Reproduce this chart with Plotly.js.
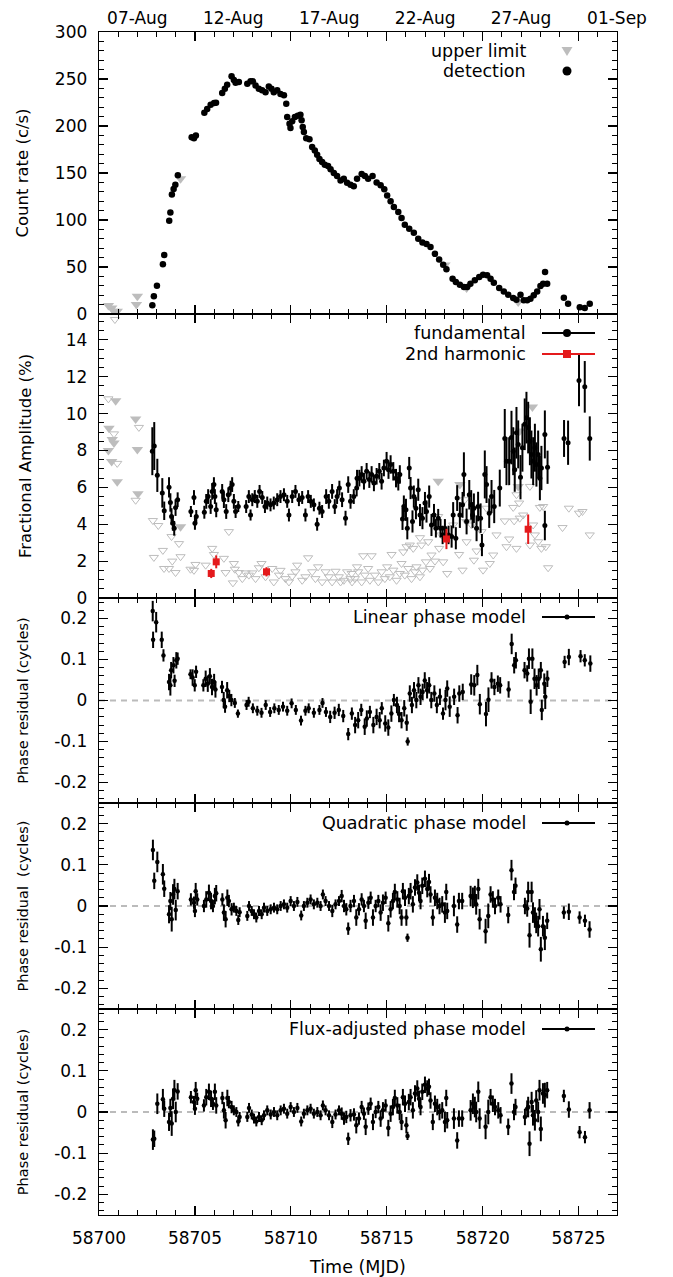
<!DOCTYPE html>
<html>
<head>
<meta charset="utf-8">
<script src="https://cdn.plot.ly/plotly-3.0.1.min.js"></script>
<style>html,body{margin:0;padding:0;background:#fff}#chart{width:673px;height:1277px}</style>
</head>
<body>
<div id="chart"></div>
<script>
// ---------- Panel 1: count rate ----------
const cntUpperT = [58700.49,58700.66,58700.78,58700.95,58701.95,58702.00,58704.25,58718.03,58719.16,58721.85];
const cntUpperV = [9,6.5,3,3,10,19,144,52,27.7,12.8];
const cntDetT = [58702.78,58702.86,58703.02,58703.33,58703.40,58703.66,58703.72,58703.80,58703.89,58703.98,58704.11,
58704.83,58704.95,58705.05,58705.49,58705.64,58705.82,58706.00,58706.10,58706.42,58706.56,58706.68,58706.91,58707.03,
58707.12,58707.29,58707.73,58707.90,58708.02,58708.16,58708.33,58708.50,58708.68,58708.85,58708.99,58709.11,58709.29,
58709.46,58709.64,58709.76,58709.81,58709.93,58709.98,58710.07,58710.21,58710.36,58710.50,58710.56,58710.62,58710.68,
58710.80,58710.97,58711.11,58711.25,58711.37,58711.49,58711.63,58711.77,58711.94,58712.07,58712.24,58712.41,58712.59,
58712.76,58712.93,58713.11,58713.28,58713.45,58713.69,58713.86,58714.03,58714.26,58714.47,58714.68,58714.87,58715.02,
58715.20,58715.37,58715.60,58715.77,58715.94,58716.17,58716.41,58716.64,58716.86,58717.07,58717.28,58717.51,58717.73,
58717.94,58718.11,58718.43,58718.60,58718.81,58719.02,58719.19,58719.36,58719.59,58719.82,58720.02,58720.23,58720.41,
58720.58,58720.86,58721.10,58721.33,58721.59,58721.76,58721.97,58722.14,58722.32,58722.49,58722.66,58722.84,58723.01,
58723.15,58723.25,58723.36,58724.23,58724.45,58725.06,58725.32,58725.58];
const cntDetV = [9.2,18.8,30,52.8,62.8,99.3,108,127,133,137.6,147.5,
188,187,190,214,218,222.7,224.5,224.8,235,239.7,244,252.8,249,
246,246.8,245,247.5,247.5,243,239.7,238,236,242,239.7,236,238,
234,232.6,223.7,209.6,202.5,198,205,209.6,211,212,206,199,193.6,
187,186,177.6,174,169.5,165,161.7,158.9,157.4,154,150,146.8,142,
144,139.7,137.6,136,144,149,146.8,144,146.8,140,136.9,132.6,126,
120,113.8,108.5,102,95,90.8,86.5,80,76,74.5,71.3,64,58,
52.5,47.5,37.6,34,31.2,28.7,28.7,32.3,35.8,39.4,41.8,41.1,37.6,
33.3,27.7,24,20.6,17,15.2,20.6,14.5,14.5,16.3,19.9,24,29.8,
32.3,44.7,32.3,17.4,11,7.1,6.4,11];

// ---------- Panel 2: fractional amplitude ----------
const fundT = [58702.78,58702.88,58703.04,58703.30,58703.40,58703.65,58703.72,58703.78,58703.85,58703.92,58703.99,58704.10,
58704.79,58704.95,58705.00,58705.07,58705.49,58705.59,58705.69,58705.82,58705.90,58705.99,58706.04,58706.11,
58706.42,58706.51,58706.63,58706.74,58706.86,58706.94,58707.03,58707.12,58707.26,58707.67,58707.81,58707.90,
58707.99,58708.12,58708.25,58708.37,58708.51,58708.65,58708.77,58708.94,58709.11,58709.29,58709.46,58709.64,
58709.81,58709.90,58710.07,58710.24,58710.42,58710.59,58710.76,58710.90,58711.04,58711.20,58711.37,58711.49,
58711.63,58711.84,58711.98,58712.15,58712.29,58712.41,58712.53,58712.67,58712.85,58712.99,58713.11,58713.28,
58713.43,58713.45,58713.57,58713.69,58713.81,58713.95,58714.09,58714.21,58714.33,58714.47,58714.61,58714.73,
58714.85,58714.99,58715.09,58715.20,58715.34,58715.48,58715.60,58715.68,58715.82,58715.89,58716.00,58716.07,
58716.17,58716.24,58716.34,58716.41,58716.52,58716.64,58716.73,58716.86,58716.99,58717.07,58717.21,58717.33,
58717.46,58717.56,58717.68,58717.80,58717.91,58718.03,58718.22,58718.38,58718.46,58718.60,58718.67,58718.81,
58718.95,58719.02,58719.16,58719.30,58719.40,58719.47,58719.54,58719.68,58719.76,58719.89,58719.96,58720.11,
58720.20,58720.34,58720.46,58720.60,58720.89,58721.15,58721.24,58721.38,58721.50,58721.59,58721.67,58721.76,
58721.85,58721.97,58722.07,58722.19,58722.28,58722.37,58722.46,58722.54,58722.63,58722.72,58722.80,58722.89,
58722.98,58723.06,58723.24,58723.24,58723.38,58724.24,58724.45,58725.02,58725.32,58725.58];
const fundV = [7.96,8.24,6.65,5.7,4.73,6.0,5.18,4.42,4.05,3.78,4.9,5.33,
4.69,5.45,4.05,4.42,4.65,5.24,5.5,4.96,5.78,6.15,5.5,4.78,
5.78,5.33,4.69,5.6,5.96,6.15,5.24,4.69,4.96,4.96,5.5,4.5,
5.33,5.5,5.24,5.78,5.45,4.96,5.15,5.05,5.15,5.33,5.5,5.6,
5.24,4.5,5.5,5.78,5.33,5.45,4.5,5.5,5.24,5.05,4.0,4.87,
4.69,5.5,5.24,5.78,4.96,5.5,5.96,5.33,4.33,6.15,5.24,5.5,
5.96,6.5,6.5,6.7,6.33,6.87,6.42,6.7,6.24,6.6,6.87,6.33,
7.05,7.42,6.96,7.24,6.87,6.5,6.33,6.7,4.29,4.96,4.78,3.78,
7.05,5.96,4.15,5.5,4.87,5.87,4.5,4.33,5.15,4.69,5.5,3.96,
4.5,3.78,4.33,3.78,3.42,3.78,3.42,3.33,4.5,3.24,5.42,4.5,
5.05,6.7,4.15,5.6,5.05,4.5,4.87,3.78,4.96,4.33,2.87,6.7,
6.15,4.6,5.5,4.96,5.96,8.65,7.42,7.42,8.7,7.96,6.96,8.96,
8.33,6.55,8.15,9.42,9.78,9.24,8.5,7.78,7.42,8.15,7.24,7.78,
6.5,7.05,8.87,3.93,7.09,8.65,8.42,11.8,11.45,8.65];
const fundE = [1.3,1.3,0.9,0.8,0.5,0.55,0.5,0.45,0.4,0.4,0.45,0.4,
0.3,0.4,0.35,0.35,0.35,0.4,0.4,0.4,0.45,0.4,0.4,0.4,
0.4,0.45,0.4,0.4,0.4,0.4,0.4,0.35,0.3,0.35,0.35,0.3,
0.35,0.35,0.35,0.35,0.35,0.35,0.35,0.35,0.35,0.35,0.35,0.35,
0.35,0.35,0.35,0.35,0.35,0.35,0.35,0.35,0.35,0.35,0.35,0.35,
0.35,0.4,0.4,0.4,0.4,0.4,0.4,0.4,0.4,0.45,0.4,0.4,
0.45,0.45,0.45,0.45,0.45,0.45,0.45,0.45,0.45,0.45,0.45,0.45,
0.45,0.5,0.5,0.5,0.5,0.5,0.5,0.5,0.6,0.6,0.6,0.6,
0.6,0.6,0.6,0.6,0.6,0.6,0.6,0.6,0.6,0.6,0.6,0.6,
0.6,0.5,0.5,0.5,0.5,0.5,0.5,0.6,0.7,0.6,0.7,0.7,
0.7,1.2,0.7,0.8,0.8,0.7,0.8,0.7,0.8,0.8,0.6,1.3,
1.0,0.8,0.9,0.9,1.0,1.6,1.3,1.3,1.45,1.3,1.2,1.4,
1.3,1.2,1.3,1.4,1.4,1.4,1.3,1.3,1.3,1.3,1.2,1.3,
1.2,1.2,1.3,0.8,0.9,1.0,1.2,1.4,1.4,1.2];
const fundUpperT = [58700.87,58700.52,58700.69,58700.78,58700.49,58700.66,58700.95,58701.91,58702.00,58702.03,58704.25,
58717.68,58718.81,58719.16,58721.85,58721.93,58722.59];
const fundUpperV = [10.7,9.2,8.6,8.4,8.0,7.4,6.3,9.7,8.05,5.65,3.87,
6.33,6.15,4.15,6.05,9.05,10.36];
const harmUpperT = [58700.83,58700.49,58700.78,58700.95,58702.08,58701.91,58702.81,58703.09,58703.78,58704.17,58702.86,
58703.33,58703.82,58704.25,58703.39,58703.65,58703.99,58704.77,58705.03,58704.95,58705.56,58705.90,58705.99,58706.51,
58706.60,58706.77,58707.03,58707.08,58706.98,58707.29,58707.47,58707.64,58707.81,58707.99,58708.16,58708.33,58708.47,
58708.68,58709.03,58709.11,58709.38,58709.46,58709.72,58709.90,58710.07,58710.24,58710.33,58710.59,58710.76,58710.90,
58711.11,58711.28,58711.42,58711.63,58711.81,58711.98,58712.15,58712.33,58712.50,58712.59,58712.76,58712.93,58713.11,
58713.19,58713.45,58713.17,58713.34,58713.51,58713.69,58713.77,58713.86,58714.03,58714.12,58714.21,58714.38,58714.56,
58714.73,58714.90,58715.02,58715.16,58715.25,58715.34,58715.51,58715.68,58715.77,58715.86,58715.94,58716.03,58716.12,
58716.20,58716.29,58716.38,58716.47,58716.55,58716.73,58716.73,58716.81,58716.86,58717.04,58717.16,58717.25,58717.33,
58717.51,58717.68,58717.73,58717.85,58717.94,58718.15,58718.46,58718.77,58718.95,58719.07,58719.16,58719.42,58719.54,
58719.68,58719.94,58720.02,58720.20,58720.37,58720.55,58720.72,58721.15,58721.24,58721.38,58721.59,58721.64,58721.76,
58721.76,58721.90,58721.93,58722.11,58722.46,58722.46,58722.63,58722.72,58722.89,58722.98,58723.06,58723.15,58723.29,
58723.41,58724.16,58724.49,58725.02,58725.20,58725.58];
const harmUpperV = [15.1,10.8,8.9,7.3,9.25,5.3,4.2,3.93,3.33,2.95,2.2,
2.58,2.0,2.24,1.6,1.6,1.38,1.56,1.82,1.5,1.78,2.69,2.36,2.15,
1.38,3.6,1.87,1.56,0.82,1.38,1.05,1.36,1.24,1.36,1.05,1.64,1.87,
1.15,1.6,0.87,1.24,1.5,1.05,0.87,1.18,1.42,1.78,0.96,1.15,2.18,
1.42,1.05,1.69,0.87,1.42,1.15,0.87,1.45,1.15,0.87,0.96,1.42,1.05,
0.87,1.69,1.33,1.05,1.42,0.87,2.29,1.24,1.6,0.96,2.29,1.24,0.87,
1.42,1.05,1.69,1.15,2.36,1.51,0.96,1.33,1.87,2.5,1.24,2.78,1.6,
2.87,1.05,2.69,1.42,1.69,3.27,1.15,2.87,1.51,1.96,3.05,1.6,2.33,
2.0,4.42,2.69,3.42,1.96,1.33,3.96,2.36,1.51,5.33,3.05,3.96,2.05,
2.55,3.6,1.51,4.87,1.87,2.33,3.42,4.18,2.78,3.2,4.91,4.18,2.69,
5.6,5.15,4.33,4.5,6.05,2.87,3.96,3.42,3.05,4.91,2.69,4.96,2.78,
1.64,3.82,4.87,4.6,4.69,3.42];
const harmT = [58705.85,58706.11,58708.73,58718.11,58722.37];
const harmV = [1.33,1.96,1.42,3.2,3.73];
const harmE = [0.25,0.35,0.25,0.55,0.8];

// ---------- Panel 3: linear phase model residuals ----------
const linT = [58702.80,58702.82,58702.98,58703.27,58703.36,58703.65,58703.72,58703.76,58703.88,58703.94,58704.03,58704.10,
58704.77,58704.88,58704.99,58705.06,58705.44,58705.56,58705.67,58705.78,58705.89,58706.00,58706.07,58706.41,58706.50,
58706.57,58706.68,58706.79,58706.90,58707.08,58707.24,58707.69,58707.80,58708.02,58708.25,58708.47,58708.69,58708.92,
58709.14,58709.37,58709.59,58709.81,58710.04,58710.26,58710.53,58710.76,58710.93,58711.20,58711.49,58711.65,58711.83,
58712.05,58712.28,58712.50,58712.73,58712.99,58713.18,58713.35,58713.51,58713.67,58713.85,58713.96,58714.12,58714.30,
58714.47,58714.63,58714.74,58714.92,58715.08,58715.24,58715.37,58715.53,58715.64,58715.77,58715.91,58716.04,58716.09,
58716.20,58716.31,58716.42,58716.54,58716.65,58716.76,58716.87,58716.98,58717.10,58717.21,58717.32,58717.48,58717.61,
58717.77,58717.93,58718.06,58718.15,58718.28,58718.51,58718.69,58718.78,58718.96,58719.40,58719.56,58719.72,58719.85,
58720.17,58720.30,58720.46,58720.61,58720.79,58720.91,58721.35,58721.51,58721.64,58721.73,58722.18,58722.32,58722.41,
58722.50,58722.59,58722.70,58722.81,58722.92,58723.03,58723.08,58723.21,58723.26,58723.37,58724.27,58724.49,58725.10,
58725.32,58725.61];
const linV = [0.218,0.148,0.191,0.148,0.110,0.045,0.037,0.074,0.086,0.048,0.098,0.102,
0.064,0.056,0.037,0.070,0.037,0.053,0.041,0.059,0.033,0.045,0.027,0.033,0.001,
-0.015,0.025,0.011,0.001,-0.006,-0.032,-0.011,-0.003,-0.019,-0.025,-0.030,-0.011,-0.028,
-0.019,-0.023,-0.015,-0.025,-0.007,-0.023,-0.049,-0.025,-0.019,-0.030,-0.023,-0.006,-0.028,
-0.040,-0.030,-0.023,-0.038,-0.082,-0.032,-0.060,-0.048,-0.023,-0.064,-0.044,-0.028,-0.060,
-0.040,-0.048,-0.019,-0.056,-0.066,-0.032,0.001,-0.011,-0.033,-0.048,-0.019,-0.054,-0.100,
0.017,-0.011,0.025,0.001,0.037,0.009,0.021,0.049,0.025,0.037,0.001,0.017,-0.011,
0.009,-0.032,0.001,0.029,-0.015,0.009,-0.036,0.017,0.021,0.039,0.037,0.062,-0.009,
-0.033,0.002,0.049,0.033,0.041,0.037,0.027,0.138,0.086,0.098,0.074,0.066,0.102,
-0.003,0.102,0.053,0.037,0.053,0.074,-0.023,0.041,0.009,0.053,0.094,0.106,0.108,
0.098,0.090];
const linE = [0.025,0.020,0.025,0.020,0.015,0.020,0.025,0.020,0.020,0.015,0.020,0.015,
0.012,0.020,0.015,0.015,0.015,0.020,0.020,0.020,0.020,0.020,0.020,0.015,0.020,
0.015,0.020,0.015,0.015,0.012,0.010,0.012,0.012,0.012,0.012,0.012,0.012,0.012,
0.012,0.012,0.012,0.012,0.012,0.012,0.012,0.012,0.012,0.012,0.012,0.012,0.012,
0.015,0.015,0.015,0.015,0.015,0.015,0.020,0.020,0.015,0.020,0.020,0.015,0.020,
0.020,0.020,0.015,0.020,0.020,0.020,0.015,0.020,0.020,0.020,0.020,0.020,0.010,
0.020,0.020,0.020,0.020,0.020,0.020,0.020,0.020,0.020,0.020,0.020,0.020,0.020,
0.020,0.015,0.025,0.020,0.025,0.020,0.020,0.020,0.020,0.025,0.025,0.025,0.025,
0.030,0.030,0.020,0.020,0.020,0.020,0.020,0.025,0.020,0.020,0.020,0.020,0.025,
0.030,0.025,0.025,0.025,0.025,0.020,0.025,0.025,0.030,0.020,0.015,0.020,0.015,
0.015,0.020];

// ---------- Panels 4 & 5: quadratic and flux-adjusted residuals ----------
const phaseT = [58702.81,58702.88,58703.04,58703.33,58703.40,58703.65,58703.72,58703.79,58703.86,58703.93,58704.00,58704.10,
58704.79,58704.95,58705.00,58705.04,58705.12,58705.47,58705.59,58705.73,58705.84,58705.94,58706.04,58706.11,
58706.43,58706.51,58706.60,58706.69,58706.77,58706.91,58707.03,58707.16,58707.26,58707.33,
58707.73,58707.82,58707.96,58708.08,58708.20,58708.34,58708.48,58708.60,58708.77,58708.95,
58709.12,58709.29,58709.47,58709.64,58709.81,58709.99,58710.16,58710.34,58710.54,58710.68,
58710.86,58711.03,58711.20,58711.38,58711.55,58711.67,58711.81,58711.99,58712.16,58712.33,
58712.51,58712.65,58712.77,58712.89,58712.99,58713.11,58713.29,58713.41,58713.55,58713.69,
58713.81,58713.90,58714.04,58714.16,58714.28,58714.42,58714.56,58714.68,58714.80,58714.94,
58715.08,58715.20,58715.32,58715.42,58715.55,58715.67,58715.77,58715.84,58715.95,58716.02,
58716.08,58716.15,58716.24,58716.36,58716.47,58716.59,58716.68,58716.76,58716.85,58716.99,
58717.11,58717.20,58717.28,58717.40,58717.51,58717.63,58717.75,58717.89,58718.03,58718.10,
58718.15,58718.50,58718.67,58718.76,58718.93,58719.37,58719.49,58719.59,58719.66,58719.77,
58719.84,58720.15,58720.29,58720.41,58720.53,58720.64,58720.81,58720.93,58721.33,58721.50,
58721.63,58721.71,58722.20,58722.32,58722.37,58722.44,58722.55,58722.62,58722.72,58722.79,
58722.89,58722.96,58723.03,58723.14,58723.24,58723.36,58724.23,58724.49,58725.05,58725.33,58725.57];
const quadV = [0.136,0.061,0.107,0.077,0.042,-0.020,0.012,-0.032,0.028,0.041,-0.010,0.036,
0.016,0.008,-0.012,0.036,0.016,0.000,0.016,0.032,0.012,0.000,0.024,0.031,
0.016,-0.016,-0.032,0.020,0.012,-0.008,-0.004,-0.012,-0.034,-0.015,
-0.024,0.000,-0.012,-0.020,-0.028,-0.012,-0.020,-0.004,-0.012,-0.008,
-0.004,-0.008,0.000,0.004,-0.004,0.012,0.000,0.010,-0.023,0.000,
0.008,0.016,0.004,0.008,0.000,0.028,0.012,0.000,-0.012,0.004,
0.012,0.024,0.000,-0.008,-0.055,0.000,0.012,-0.028,-0.008,0.016,
0.000,-0.036,0.008,0.020,-0.028,0.000,0.012,-0.016,0.008,0.020,
-0.042,-0.008,0.012,0.034,0.016,0.000,-0.028,0.036,0.020,-0.028,
-0.077,0.024,0.036,0.004,0.045,0.057,0.032,0.012,0.049,0.066,
0.041,0.058,0.028,-0.028,0.020,0.012,0.000,0.004,-0.016,0.034,
-0.012,0.000,-0.045,0.012,0.012,0.024,0.020,0.024,0.004,0.041,
-0.032,-0.061,-0.024,0.028,0.016,0.000,0.020,0.004,-0.022,0.087,
0.034,0.049,0.000,-0.006,0.034,-0.071,0.034,-0.016,-0.028,-0.041,
-0.049,-0.008,-0.105,-0.049,-0.077,-0.036,-0.016,-0.014,-0.028,-0.036,-0.057];
const fluxV = [-0.067,-0.065,0.020,0.031,0.008,-0.024,0.010,-0.028,0.032,0.053,0.000,0.050,
0.036,0.024,0.008,0.053,0.032,0.016,0.036,0.049,0.032,0.020,0.049,0.016,
0.034,0.004,-0.020,0.034,0.024,0.012,0.004,0.000,-0.023,-0.012,
-0.012,0.010,-0.006,-0.016,-0.023,-0.012,-0.020,-0.008,0.004,-0.006,
0.000,-0.008,0.004,0.008,-0.004,0.012,0.000,0.010,-0.023,-0.004,
0.004,0.008,-0.004,0.000,-0.008,0.016,0.004,-0.008,-0.024,-0.006,
0.004,-0.004,-0.016,-0.012,-0.065,-0.008,-0.006,-0.032,-0.016,0.012,
-0.004,-0.036,0.008,0.020,-0.024,0.000,0.012,-0.016,0.004,0.016,
-0.039,-0.004,0.012,0.034,0.016,0.000,-0.024,0.036,0.020,-0.032,
-0.058,0.024,0.036,0.004,0.045,0.057,0.032,0.012,0.049,0.066,
0.057,0.061,0.028,-0.024,0.020,0.012,0.000,0.004,-0.024,0.034,
-0.020,-0.016,-0.069,-0.016,-0.016,0.004,0.020,0.012,0.000,0.049,
-0.016,-0.036,0.000,0.036,0.020,0.012,0.004,-0.008,-0.036,0.069,
0.000,0.012,-0.012,0.008,0.012,-0.077,0.024,-0.008,-0.020,0.028,
0.000,0.053,-0.041,0.045,0.041,0.053,0.039,0.006,-0.049,-0.061,0.004];
const phaseE = [0.025,0.020,0.025,0.025,0.020,0.022,0.022,0.030,0.025,0.025,0.025,0.020,
0.015,0.015,0.015,0.020,0.015,0.015,0.020,0.020,0.020,0.015,0.020,0.020,
0.015,0.020,0.020,0.020,0.015,0.015,0.012,0.012,0.012,0.012,
0.012,0.012,0.012,0.012,0.012,0.012,0.012,0.012,0.012,0.012,
0.012,0.012,0.012,0.012,0.012,0.012,0.012,0.012,0.012,0.012,
0.012,0.012,0.012,0.012,0.012,0.012,0.012,0.012,0.015,0.012,
0.012,0.015,0.015,0.015,0.015,0.015,0.015,0.020,0.015,0.015,
0.015,0.020,0.015,0.015,0.020,0.015,0.015,0.020,0.020,0.015,
0.020,0.020,0.020,0.020,0.020,0.020,0.020,0.020,0.020,0.020,
0.010,0.020,0.020,0.020,0.020,0.020,0.020,0.020,0.020,0.020,
0.020,0.020,0.020,0.020,0.020,0.020,0.020,0.020,0.025,0.020,
0.020,0.025,0.020,0.020,0.020,0.025,0.025,0.025,0.025,0.025,
0.025,0.030,0.030,0.020,0.020,0.020,0.020,0.020,0.020,0.025,
0.020,0.020,0.020,0.020,0.025,0.030,0.025,0.025,0.025,0.025,
0.025,0.025,0.030,0.025,0.030,0.020,0.015,0.020,0.015,0.015,0.020];

// ---------- Axis labels ----------
const dateTickT = [58702,58707,58712,58717,58722,58727];
const dateTickText = ['07-Aug','12-Aug','17-Aug','22-Aug','27-Aug','01-Sep'];
const phaseTickV = [-0.2,-0.1,0,0.1,0.2];
const phaseTickText = ['-0.2','-0.1','0','0.1','0.2'];

// ---------- geometry (pixels) ----------
const PL = 99, PR = 617, PT = 32, PB = 1215;
const fx = p => (p - PL) / (PR - PL);
const fy = p => (PB - p) / (PB - PT);
const FONT = 'DejaVu Sans, Verdana, sans-serif';
const GRAY = '#bdbdbd', RED = '#e41a1c';

const xBase = {
  range:[58700,58727], showline:true, linecolor:'black', linewidth:1.3, mirror:'ticks',
  ticks:'inside', ticklen:9, tickwidth:1.2, tickcolor:'black', tick0:58700, dtick:5, tickformat:'d',
  minor:{ticks:'inside', ticklen:5, tickwidth:1, tickcolor:'black', dtick:1, tick0:58700},
  showgrid:false, zeroline:false, showticklabels:false, fixedrange:true,
  tickfont:{family:FONT, size:17, color:'black'}
};
function yBase(extra){
  return Object.assign({
    showline:true, linecolor:'black', linewidth:1.3, mirror:'ticks',
    ticks:'inside', ticklen:9, tickwidth:1.2, tickcolor:'black',
    showgrid:false, zeroline:false, fixedrange:true, ticklabelstandoff:7,
    tickfont:{family:FONT, size:17, color:'black'}
  }, extra);
}
const phaseTitle = (t, s) => ({text:t, font:{family:FONT, size:14.5, color:'black'}, standoff:s});

const layout = {
  width:673, height:1277,
  margin:{l:PL, r:673-PR, t:PT, b:1277-PB},
  paper_bgcolor:'white', plot_bgcolor:'white', showlegend:false,
  font:{family:FONT, color:'black'},
  xaxis: Object.assign({}, xBase, {anchor:'y'}),
  xaxis2: Object.assign({}, xBase, {anchor:'y2'}),
  xaxis3: Object.assign({}, xBase, {anchor:'y3'}),
  xaxis4: Object.assign({}, xBase, {anchor:'y4'}),
  xaxis5: Object.assign({}, xBase, {anchor:'y5', showticklabels:true, ticklabelstandoff:7,
           title:{text:'Time (MJD)', font:{family:FONT, size:17.5, color:'black'}, standoff:14}}),
  xaxis6: {overlaying:'x', anchor:'y', side:'top', range:[58700,58727], tickmode:'array',
           tickvals:dateTickT, ticktext:dateTickText, ticks:'', showline:false, showgrid:false,
           zeroline:false, fixedrange:true, ticklabelstandoff:4,
           tickfont:{family:FONT, size:17, color:'black'}},
  yaxis: yBase({domain:[fy(314),1], range:[0,300], dtick:50, tick0:0,
          minor:{ticks:'inside', ticklen:5, tickwidth:1, tickcolor:'black', dtick:10, tick0:0},
          title:{text:'Count rate (c/s)', font:{family:FONT, size:16.5, color:'black'}, standoff:22}}),
  yaxis2: yBase({domain:[fy(598),fy(314)], range:[0,15.4], dtick:2, tick0:0,
          minor:{ticks:'inside', ticklen:5, tickwidth:1, tickcolor:'black', dtick:0.5, tick0:0},
          title:{text:'Fractional Amplitude (%)', font:{family:FONT, size:16.5, color:'black'}, standoff:30}}),
  yaxis3: yBase({domain:[fy(803),fy(598)], range:[-0.25,0.25], tickmode:'array',
          tickvals:phaseTickV, ticktext:phaseTickText,
          minor:{ticks:'inside', ticklen:5, tickwidth:1, tickcolor:'black', tickmode:'linear', dtick:0.02, tick0:0},
          title:phaseTitle('Phase residual (cycles)', 22)}),
  yaxis4: yBase({domain:[fy(1009),fy(803)], range:[-0.25,0.25], tickmode:'array',
          tickvals:phaseTickV, ticktext:phaseTickText,
          minor:{ticks:'inside', ticklen:5, tickwidth:1, tickcolor:'black', tickmode:'linear', dtick:0.02, tick0:0},
          title:phaseTitle('Phase residual  (cycles)', 22)}),
  yaxis5: yBase({domain:[0,fy(1009)], range:[-0.25,0.25], tickmode:'array',
          tickvals:phaseTickV, ticktext:phaseTickText,
          minor:{ticks:'inside', ticklen:5, tickwidth:1, tickcolor:'black', tickmode:'linear', dtick:0.02, tick0:0},
          title:phaseTitle('Phase residual (cycles)', 22)}),
  shapes:[], annotations:[]
};

// zero lines in phase panels
['3','4','5'].forEach(k => {
  layout.shapes.push({type:'line', xref:'x'+k, yref:'y'+k, x0:58700, x1:58727, y0:0, y1:0,
    layer:'below', line:{color:'#bbbbbb', width:1.8, dash:'6px,5px'}});
});

// legends (drawn as text + shapes, symbol to the right of the label)
function legendText(txt, ypix){
  layout.annotations.push({text:txt, xref:'paper', yref:'paper', x:fx(528), y:fy(ypix),
    xanchor:'right', yanchor:'middle', showarrow:false, font:{family:FONT, size:17.5, color:'black'}});
}
function legendLine(ypix, color){
  layout.shapes.push({type:'line', xref:'paper', yref:'paper', x0:fx(542), x1:fx(595), y0:fy(ypix), y1:fy(ypix),
    line:{color:color, width:2}});
}
function legendDot(xpix, ypix, r, color){
  layout.shapes.push({type:'circle', xref:'paper', yref:'paper', xsizemode:'pixel', ysizemode:'pixel',
    xanchor:fx(xpix), yanchor:fy(ypix), x0:-r, x1:r, y0:-r, y1:r, fillcolor:color, line:{width:0}});
}
function legendSquare(xpix, ypix, r, color){
  layout.shapes.push({type:'rect', xref:'paper', yref:'paper', xsizemode:'pixel', ysizemode:'pixel',
    xanchor:fx(xpix), yanchor:fy(ypix), x0:-r, x1:r, y0:-r, y1:r, fillcolor:color, line:{width:0}});
}
function legendTriangle(xpix, ypix, color){
  layout.shapes.push({type:'path', xref:'paper', yref:'paper', xsizemode:'pixel', ysizemode:'pixel',
    xanchor:fx(xpix), yanchor:fy(ypix), path:'M-5.5,4 L5.5,4 L0,-5 Z', fillcolor:color, line:{width:0}});
}
legendText('upper limit', 51); legendTriangle(567, 51, GRAY);
legendText('detection', 71); legendDot(567, 71, 4.5, 'black');
legendText('fundamental', 333); legendLine(333, 'black'); legendDot(567, 333, 4, 'black');
legendText('2nd harmonic', 354); legendLine(354, RED); legendSquare(567, 354, 4, RED);
legendText('Linear phase model', 617); legendLine(617, 'black'); legendDot(567, 617, 2.5, 'black');
legendText('Quadratic phase model', 823); legendLine(823, 'black'); legendDot(567, 823, 2.5, 'black');
legendText('Flux-adjusted phase model', 1029); legendLine(1029, 'black'); legendDot(567, 1029, 2.5, 'black');

const err = (arr, color, th) => ({type:'data', array:arr, visible:true, color:color, thickness:th, width:0});
const traces = [
  {x:[], y:[], xaxis:'x6', yaxis:'y', type:'scatter', mode:'markers', hoverinfo:'skip'},
  {x:cntUpperT, y:cntUpperV, xaxis:'x', yaxis:'y', type:'scatter', mode:'markers',
   marker:{symbol:'triangle-down', size:10, color:GRAY, line:{width:0}}},
  {x:cntDetT, y:cntDetV, xaxis:'x', yaxis:'y', type:'scatter', mode:'markers',
   marker:{symbol:'circle', size:6.5, color:'black', line:{width:0}}},
  {x:harmUpperT, y:harmUpperV, xaxis:'x2', yaxis:'y2', type:'scatter', mode:'markers',
   marker:{symbol:'triangle-down-open', size:8, color:GRAY, line:{width:1, color:GRAY}}},
  {x:fundUpperT, y:fundUpperV, xaxis:'x2', yaxis:'y2', type:'scatter', mode:'markers',
   marker:{symbol:'triangle-down', size:10, color:GRAY, line:{width:0}}},
  {x:fundT, y:fundV, xaxis:'x2', yaxis:'y2', type:'scatter', mode:'markers',
   error_y:err(fundE, 'black', 2), marker:{symbol:'circle', size:5, color:'black', line:{width:0}}},
  {x:harmT, y:harmV, xaxis:'x2', yaxis:'y2', type:'scatter', mode:'markers',
   error_y:err(harmE, RED, 2), marker:{symbol:'square', size:7, color:RED, line:{width:0}}},
  {x:linT, y:linV, xaxis:'x3', yaxis:'y3', type:'scatter', mode:'markers',
   error_y:err(linE, 'black', 2), marker:{symbol:'circle', size:4.5, color:'black', line:{width:0}}},
  {x:phaseT, y:quadV, xaxis:'x4', yaxis:'y4', type:'scatter', mode:'markers',
   error_y:err(phaseE, 'black', 2), marker:{symbol:'circle', size:4.5, color:'black', line:{width:0}}},
  {x:phaseT, y:fluxV, xaxis:'x5', yaxis:'y5', type:'scatter', mode:'markers',
   error_y:err(phaseE, 'black', 2), marker:{symbol:'circle', size:4.5, color:'black', line:{width:0}}}
];

Plotly.newPlot('chart', traces, layout, {staticPlot:true, displayModeBar:false});
</script>
</body>
</html>
